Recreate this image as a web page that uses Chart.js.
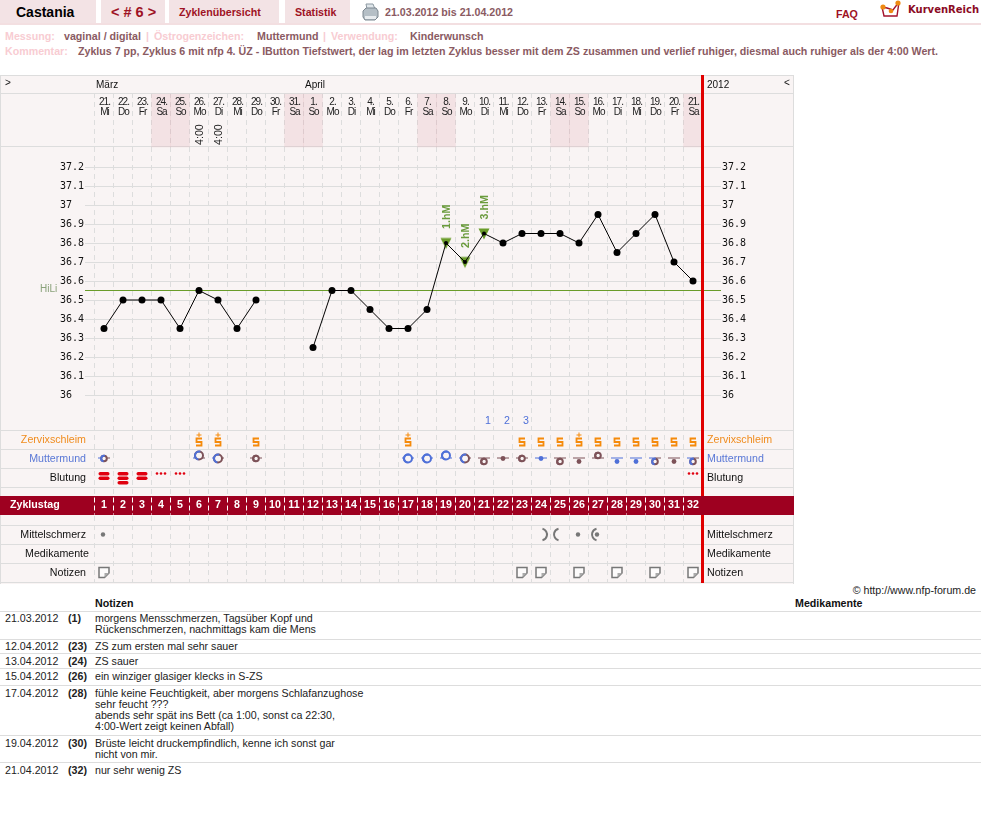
<!DOCTYPE html>
<html lang="de">
<head>
<meta charset="utf-8">
<title>Castania</title>
<script src="https://cdn.jsdelivr.net/npm/chart.js@4"></script>
<style>
    html, body { margin: 0; padding: 0; background: #fff; }
    body { width: 981px; height: 833px; position: relative; overflow: hidden; font-family: "Liberation Sans", Arial, sans-serif; }
    .abs { position: absolute; white-space: nowrap; }
    .tab { position: absolute; top: 0; height: 23px; line-height: 25px; background: #f3e3e5; text-align: left; color: #9e1224; font-weight: bold; font-size: 10.67px; box-sizing: border-box; padding-left: 10px; }
    .rule { position: absolute; left: 0; top: 23px; width: 981px; height: 2px; background: #f3dfe1; }
    .info { font-weight: bold; font-size: 10.67px; color: #8a5a62; line-height: 13px; }
    .pale { color: #f8ccd2; }
    #chart { position: absolute; left: 0; top: 0; }
    #noteTable { position: absolute; left: 0; top: 597px; width: 981px; border-collapse: collapse; font-size: 10.67px; line-height: 11px; color: #222; }
    #noteTable td, #noteTable th { padding: 2px 0 0 0; border-bottom: 1px solid #ddd; vertical-align: top; text-align: left; }
    #noteTable th { color: #111; padding: 1px 0 2px 0; }
    #noteTable tbody tr:nth-child(-n+2) td { padding-top: 1px; }
    #noteTable tr:last-child td { border-bottom: 0; }
</style>
</head>
<body>
<div class="tab" style="left:0;width:96px;padding-left:16px;color:#000;font-size:14px">Castania</div>
<div class="tab" style="left:101px;width:64px;font-size:14.5px">&lt; # 6 &gt;</div>
<div class="tab" style="left:169px;width:110px">Zyklenübersicht</div>
<div class="tab" style="left:285px;width:65px">Statistik</div>
<div class="rule"></div>
<svg class="abs" style="left:362px;top:3px" width="17" height="18" viewBox="0 0 17 18">
    <path d="M4 1h7l2 5H5z" fill="#dfe6ea" stroke="#8d99a2"/>
    <path d="M1 8l3-3h10l2 3v6l-3 3H3l-2-3z" fill="#b5bfc6" stroke="#7c8790"/>
    <path d="M3 13h11v3H3z" fill="#e8ecef"/>
</svg>
<div class="abs info" style="left:385px;top:6px">21.03.2012 bis 21.04.2012</div>
<div class="abs" style="left:836px;top:8px;font-size:10.67px;font-weight:bold;color:#9e1224">FAQ</div>
<svg class="abs" style="left:880px;top:0" width="22" height="19" viewBox="0 0 22 19">
    <path d="M2 7l2 9h13l2-14-6 8-6-2z" fill="#fff" stroke="#a3122c" stroke-width="1.4"/>
    <circle cx="3" cy="7" r="2.6" fill="#ee8a12"/><circle cx="11" cy="11" r="2.3" fill="#ee8a12"/><circle cx="18" cy="3" r="2.6" fill="#ee8a12"/>
</svg>
<div class="abs" style="left:908px;top:4px;font:bold 10px 'DejaVu Sans';color:#8b0b24">KurvenReich</div>

<div class="abs info pale" style="left:5px;top:30px">Messung:</div>
<div class="abs info" style="left:64px;top:30px">vaginal / digital</div>
<div class="abs info pale" style="left:146px;top:30px">|</div>
<div class="abs info pale" style="left:154px;top:30px">Östrogenzeichen:</div>
<div class="abs info" style="left:257px;top:30px">Muttermund</div>
<div class="abs info pale" style="left:323px;top:30px">|</div>
<div class="abs info pale" style="left:331px;top:30px">Verwendung:</div>
<div class="abs info" style="left:410px;top:30px">Kinderwunsch</div>
<div class="abs info pale" style="left:5px;top:45px">Kommentar:</div>
<div class="abs info" style="left:78px;top:45px">Zyklus 7 pp, Zyklus 6 mit nfp 4. ÜZ - IButton Tiefstwert, der lag im letzten Zyklus besser mit dem ZS zusammen und verlief ruhiger, diesmal auch ruhiger als der 4:00 Wert.</div>

<canvas id="chart" width="794" height="584"></canvas>

<div class="abs" style="right:5px;top:584px;font-size:10.67px;color:#222">© http://www.nfp-forum.de</div>
<table id="noteTable">
    <colgroup><col style="width:68px"><col style="width:27px"><col style="width:700px"><col></colgroup>
    <thead><tr><th></th><th></th><th>Notizen</th><th>Medikamente</th></tr></thead>
    <tbody id="noteBody"></tbody>
</table>

<script>
// cycle days
const cycleDays = [1,2,3,4,5,6,7,8,9,10,11,12,13,14,15,16,17,18,19,20,21,22,23,24,25,26,27,28,29,30,31,32];
const dayDates = ['21.','22.','23.','24.','25.','26.','27.','28.','29.','30.','31.','1.','2.','3.','4.','5.','6.','7.','8.','9.','10.','11.','12.','13.','14.','15.','16.','17.','18.','19.','20.','21.'];
const dayNames = ['Mi','Do','Fr','Sa','So','Mo','Di','Mi','Do','Fr','Sa','So','Mo','Di','Mi','Do','Fr','Sa','So','Mo','Di','Mi','Do','Fr','Sa','So','Mo','Di','Mi','Do','Fr','Sa'];
const weekendDays = [4,5,11,12,18,19,25,26,32];

// temperature curve, null = not measured
const temperatures = [36.35,36.5,36.5,36.5,36.35,36.55,36.5,36.35,36.5,null,null,36.25,36.55,36.55,36.45,36.35,36.35,36.45,36.8,36.7,36.85,36.8,36.85,36.85,36.85,36.8,36.95,36.75,36.85,36.95,36.7,36.6];
const tempTicks = [37.2,37.1,37,36.9,36.8,36.7,36.6,36.5,36.4,36.3,36.2,36.1,36];
const hiLi = 36.55;
const highDays = [19,20,21];
const highLabels = ['1.hM','2.hM','3.hM'];
const countDays = [21,22,23];
const countLabels = ['1','2','3'];
const fourOClockDays = [6,7];

// cervical mucus
const mucusDays = [6,7,9,17,23,24,25,26,27,28,29,30,31,32];
const mucusPlus = [true,true,false,true,false,false,false,true,false,false,false,false,false,false];

// cervix: day, opening (0 dot, 1 small ring, 2 large ring), height (1 high, 0 middle, -1 low), colour
const cervixDays = [1,6,7,9,17,18,19,20,21,22,23,24,25,26,27,28,29,30,31,32];
const cervixOpening = [1,2,2,1,2,2,2,2,1,0,1,0,1,0,1,0,0,1,0,1];
const cervixHeight = [0,1,0,0,0,0,1,0,-1,0,0,0,-1,-1,1,-1,-1,-1,-1,-1];
const cervixTone = ['mix','mix','mix','soft','firm','firm','firm','mix','soft','soft','soft','firm','soft','soft','soft','firm','firm','mix','soft','mix'];

// bleeding
const bleedDays = [1,2,3,4,5,32];
const bleedAmount = [2,3,2,0,0,0];

// pain and notes
const painDays = [1,24,25,26,27];
const painMarks = ['dot','right','left','dot','leftdot'];
const noteDays = [1,23,24,26,28,30,32];

// note list below the chart
const noteDates = ['21.03.2012','12.04.2012','13.04.2012','15.04.2012','17.04.2012','19.04.2012','21.04.2012'];
const noteTexts = [
    'morgens Mensschmerzen, Tagsüber Kopf und<br>Rückenschmerzen, nachmittags kam die Mens',
    'ZS zum ersten mal sehr sauer',
    'ZS sauer',
    'ein winziger glasiger klecks in S-ZS',
    'fühle keine Feuchtigkeit, aber morgens Schlafanzughose<br>sehr feucht ???<br>abends sehr spät ins Bett (ca 1:00, sonst ca 22:30,<br>4:00-Wert zeigt keinen Abfall)',
    'Brüste leicht druckempfindlich, kenne ich sonst gar<br>nicht von mir.',
    'nur sehr wenig ZS'
];

// row names, left and right of the grid
const rowNames = ['Zervixschleim','Muttermund','Blutung','Mittelschmerz','Medikamente','Notizen'];
const rowNumbers = [7,6,5,2,1,0];
const rowColours = ['#f08c1e','#5a78d6','#111','#111','#111','#111'];

const noteRowHeights = [28,14,15,17,50,27,20];
document.getElementById('noteBody').innerHTML = noteDates.map((date, i) =>
    `<tr style="height:${noteRowHeights[i]}px"><td style="padding-left:5px">${date}</td><td><b>(${noteDays[i]})</b></td><td>${noteTexts[i]}</td><td></td></tr>`
).join('');

const BG = '#f9f4f4';
const GRID = '#dddddd';
const RED = '#e00000';
const WINE = '#9e0020';
const GREEN = '#6a9c2a';
const ORANGE = '#f58a0b';
const BLUE = '#4f70d8';
const BROWN = '#7d5258';
const GREY = '#777777';
const LABEL_FONT = '10.67px "Liberation Sans"';

// rows are 19px high and row 0 is Notizen
const rowY = px => (572.5 - px) / 19;
const bandRow = 3.526;

// small helper for the symbols used as point styles
function icon(w, h, paint) {
    const c = document.createElement('canvas');
    c.width = w;
    c.height = h;
    paint(c.getContext('2d'), w / 2, h / 2);
    return c;
}

const triangleIcon = icon(12, 23, (g, cx, cy) => {
    g.fillStyle = GREEN;
    g.beginPath();
    g.moveTo(cx - 5.5, cy - 5);
    g.lineTo(cx + 5.5, cy - 5);
    g.lineTo(cx, cy + 6);
    g.closePath();
    g.fill();
});

function mucusIcon(plus) {
    return icon(12, 19, (g, cx, cy) => {
        g.strokeStyle = ORANGE;
        g.lineWidth = 1.8;
        g.beginPath();
        g.moveTo(cx + 3, cy - 1);
        g.lineTo(cx - 2.5, cy - 1);
        g.lineTo(cx - 2.5, cy + 2.5);
        g.lineTo(cx + 2.5, cy + 2.5);
        g.lineTo(cx + 2.5, cy + 6);
        g.lineTo(cx - 3, cy + 6);
        g.stroke();
        if (plus) {
            g.lineWidth = 1;
            g.beginPath();
            g.moveTo(cx - 2.5, cy - 4.5);
            g.lineTo(cx + 2.5, cy - 4.5);
            g.moveTo(cx, cy - 7);
            g.lineTo(cx, cy - 2.5);
            g.stroke();
        }
    });
}

function cervixIcon(opening, height, tone) {
    return icon(18, 19, (g, cx, cy) => {
        const lead = tone === 'soft' ? BROWN : BLUE;
        const tail = tone === 'firm' ? BLUE : BROWN;
        const sy = cy - height * 3;
        g.lineWidth = 1;
        g.strokeStyle = lead;
        g.beginPath();
        g.moveTo(cx - 6, cy - 0.5);
        g.lineTo(cx, cy - 0.5);
        g.stroke();
        g.strokeStyle = tail;
        g.beginPath();
        g.moveTo(cx, cy - 0.5);
        g.lineTo(cx + 6, cy - 0.5);
        g.stroke();
        if (opening === 0) {
            g.fillStyle = tone === 'soft' ? BROWN : BLUE;
            g.beginPath();
            g.arc(cx, sy, 2.4, 0, Math.PI * 2);
            g.fill();
            return;
        }
        const r = opening === 2 ? 4 : 2.8;
        g.fillStyle = BG;
        g.beginPath();
        g.arc(cx, sy, r, 0, Math.PI * 2);
        g.fill();
        g.lineWidth = 2;
        g.strokeStyle = tail;
        g.beginPath();
        g.arc(cx, sy, r, 0, Math.PI * 2);
        g.stroke();
        g.strokeStyle = lead;
        g.beginPath();
        g.arc(cx, sy, r, Math.PI * 0.55, Math.PI * 1.6);
        g.stroke();
    });
}

function bleedIcon(amount) {
    return icon(18, 19, (g, cx, cy) => {
        g.fillStyle = '#e0000f';
        if (amount === 0) {
            [-4, 0, 4].forEach(dx => {
                g.beginPath();
                g.arc(cx + dx, cy - 4, 1.3, 0, Math.PI * 2);
                g.fill();
            });
            return;
        }
        for (let i = 0; i < amount; i++) {
            g.beginPath();
            g.roundRect(cx - 5.5, cy - 5.5 + i * 4.5, 11, 3.4, 1.7);
            g.fill();
        }
    });
}

function painIcon(mark) {
    return icon(18, 19, (g, cx, cy) => {
        g.fillStyle = GREY;
        g.strokeStyle = GREY;
        g.lineWidth = 2;
        if (mark === 'dot' || mark === 'leftdot') {
            g.beginPath();
            g.arc(cx - 1, cy, 2.2, 0, Math.PI * 2);
            g.fill();
        }
        if (mark === 'left' || mark === 'leftdot') {
            g.beginPath();
            g.arc(cx, cy, 6, Math.PI * 0.58, Math.PI * 1.42);
            g.stroke();
        }
        if (mark === 'right') {
            g.beginPath();
            g.arc(cx, cy, 6, -Math.PI * 0.42, Math.PI * 0.42);
            g.stroke();
        }
    });
}

const noteIcon = icon(12, 13, g => {
    g.fillStyle = '#fdfbfb';
    g.strokeStyle = GREY;
    g.lineWidth = 1.5;
    g.beginPath();
    g.moveTo(1, 1.5);
    g.lineTo(11, 1.5);
    g.lineTo(11, 7);
    g.lineTo(6.5, 11.5);
    g.lineTo(1, 11.5);
    g.closePath();
    g.fill();
    g.stroke();
    g.fillStyle = '#aaa';
    g.beginPath();
    g.moveTo(6.5, 7);
    g.lineTo(11, 7);
    g.lineTo(6.5, 11.5);
    g.closePath();
    g.fill();
});

function drawText(g, text, x, y, font, colour, align, spacing) {
    g.font = font;
    g.fillStyle = colour;
    g.textAlign = align || 'left';
    g.textBaseline = 'middle';
    g.letterSpacing = spacing || '0px';
    g.fillText(text, x, y);
    g.letterSpacing = '0px';
}

function drawUpright(g, text, x, y, font, colour) {
    g.save();
    g.translate(x, y);
    g.rotate(-Math.PI / 2);
    g.font = font;
    g.fillStyle = colour;
    g.textAlign = 'left';
    g.textBaseline = 'alphabetic';
    g.fillText(text, 0, 0);
    g.restore();
}

const chartFrame = {
    id: 'chartFrame',
    beforeDraw(chart) {
        const g = chart.ctx;
        g.save();
        g.fillStyle = BG;
        g.fillRect(0, 75, 794, 509);
        g.fillStyle = GRID;
        g.fillRect(0, 75, 794, 1);
        g.fillRect(0, 75, 1, 509);
        g.fillRect(793, 75, 1, 509);
        g.restore();
    },
    beforeDatasetsDraw(chart) {
        const g = chart.ctx;
        const { temp } = chart.scales;
        const ruleY = v => Math.floor(temp.getPixelForValue(v)) + 0.5;
        g.save();
        g.strokeStyle = GRID;
        g.lineWidth = 1;
        tempTicks.forEach(t => {
            g.beginPath();
            g.moveTo(85, ruleY(t));
            g.lineTo(721, ruleY(t));
            g.stroke();
        });
        g.strokeStyle = GREEN;
        g.beginPath();
        g.moveTo(85, ruleY(hiLi));
        g.lineTo(721, ruleY(hiLi));
        g.stroke();
        g.restore();
    },
    afterDraw(chart) {
        const g = chart.ctx;
        const { x, temp, rows } = chart.scales;
        g.save();

        // cycle end marker and the cycle day band
        const endX = x.getPixelForValue(32.5);
        g.fillStyle = RED;
        g.fillRect(endX - 1.5, 75, 3, 508);
        const bandY = rows.getPixelForValue(bandRow);
        g.fillStyle = WINE;
        g.fillRect(0, Math.round(bandY - 9.5), 794, 19);
        g.strokeStyle = '#fff';
        g.setLineDash([5, 3]);
        g.lineWidth = 1;
        for (let d = 1; d <= 32; d++) {
            const bx = Math.floor(x.getPixelForValue(d - 0.5)) + 0.5;
            g.beginPath();
            g.moveTo(bx, bandY - 8);
            g.lineTo(bx, bandY + 9);
            g.stroke();
        }
        g.setLineDash([]);
        drawText(g, 'Zyklustag', 10, bandY, 'bold ' + LABEL_FONT, '#fff');
        cycleDays.forEach(d => drawText(g, String(d), x.getPixelForValue(d), bandY, 'bold ' + LABEL_FONT, '#fff', 'center'));

        // header row
        const font = '10px "Liberation Sans"';
        drawText(g, '>', 5, 83, font, '#111');
        drawText(g, 'März', x.getPixelForValue(0.5) + 1.5, 85, font, '#111');
        drawText(g, 'April', x.getPixelForValue(11.5) + 1.5, 85, font, '#111');
        drawText(g, '2012', 707, 85, font, '#111');
        drawText(g, '<', 784, 83, font, '#111');
        cycleDays.forEach((d, i) => {
            const cx = x.getPixelForValue(d) + 0.5;
            drawText(g, dayDates[i], cx, 102, font, '#222', 'center', '-1px');
            drawText(g, dayNames[i], cx, 112, font, '#222', 'center', '-1px');
        });
        fourOClockDays.forEach(d => drawUpright(g, '4:00', x.getPixelForValue(d) + 4, 145, LABEL_FONT, '#222'));

        // row names on both sides
        rowNames.forEach((name, i) => {
            const y = rows.getPixelForValue(rowNumbers[i]) + 0.5;
            drawText(g, name, name === 'Medikamente' ? 89 : 86, y, LABEL_FONT, rowColours[i], 'right');
            drawText(g, name, 707, y, LABEL_FONT, rowColours[i]);
        });

        // temperature notes
        drawText(g, 'HiLi', 40, temp.getPixelForValue(hiLi) - 1, '10px "Liberation Sans"', '#8aa27a');
        highDays.forEach((d, i) => {
            const py = temp.getPixelForValue(temperatures[d - 1]);
            drawUpright(g, highLabels[i], x.getPixelForValue(d) + 4, py - 14, 'bold ' + LABEL_FONT, '#6a9b3c');
        });
        countDays.forEach((d, i) => {
            drawText(g, countLabels[i], x.getPixelForValue(d) + 1, rows.getPixelForValue(8) + 0.5, LABEL_FONT, BLUE);
        });
        g.restore();
    }
};

const iconSet = (days, row, styles) => ({
    data: days.map(d => ({ x: d, y: row })),
    yAxisID: 'rows',
    showLine: false,
    pointRadius: 9,
    pointStyle: ctx => styles[ctx.dataIndex]
});

const flatAxis = scale => {
    scale.width = 0;
    scale.height = 0;
    scale.paddingTop = 0;
    scale.paddingBottom = 0;
    scale.paddingLeft = 0;
    scale.paddingRight = 0;
};

const tempRange = { min: 37.2 - 415 / 190, max: 37.2 + 74 / 190 };

const tempAxis = padding => ({
    position: 'left',
    min: tempRange.min,
    max: tempRange.max,
    afterBuildTicks: scale => { scale.ticks = tempTicks.map(value => ({ value })); },
    afterFit: flatAxis,
    grid: { display: false },
    border: { display: false },
    ticks: {
        mirror: true,
        padding,
        autoSkip: false,
        color: '#111',
        font: { family: '"DejaVu Sans Mono"', size: 10 },
        callback: v => String(v)
    }
});

new Chart(document.getElementById('chart'), {
    type: 'line',
    data: {
        datasets: [
            {
                data: cycleDays.map((d, i) => ({ x: d, y: temperatures[i] })),
                yAxisID: 'temp',
                borderColor: '#000',
                borderWidth: 1,
                backgroundColor: '#000',
                pointRadius: ctx => (highDays.includes(ctx.raw.x) ? 2 : 3.5),
                pointBorderWidth: 0,
                tension: 0,
                spanGaps: false
            },
            {
                data: highDays.map(d => ({ x: d, y: temperatures[d - 1] })),
                yAxisID: 'temp',
                showLine: false,
                pointRadius: 7,
                pointStyle: ctx => triangleIcon
            },
            iconSet(mucusDays, 7, mucusPlus.map(mucusIcon)),
            iconSet(cervixDays, 6, cervixDays.map((d, i) => cervixIcon(cervixOpening[i], cervixHeight[i], cervixTone[i]))),
            iconSet(bleedDays, 5, bleedAmount.map(bleedIcon)),
            iconSet(painDays, 2, painMarks.map(painIcon)),
            iconSet(noteDays, 0, noteDays.map(() => noteIcon)),
            {
                type: 'bar',
                data: weekendDays.map(d => ({ x: d, y: [rowY(147), rowY(94)] })),
                yAxisID: 'rows',
                barThickness: 19,
                grouped: false,
                borderWidth: 0,
                backgroundColor: 'rgba(226,170,178,0.24)'
            }
        ]
    },
    options: {
        responsive: false,
        animation: false,
        events: [],
        layout: { autoPadding: false, padding: { top: 93, bottom: 2, left: 0, right: 0 } },
        plugins: { legend: { display: false }, tooltip: { enabled: false }, title: { display: false } },
        scales: {
            x: {
                type: 'linear',
                position: 'bottom',
                offset: false,
                min: 1 - 104 / 19,
                max: 1 + 690 / 19,
                afterBuildTicks: scale => { scale.ticks = cycleDays.map(d => ({ value: d - 0.5 })); },
                afterFit: flatAxis,
                grid: { color: GRID, drawTicks: false, offset: false },
                border: { display: false, dash: [5, 4] },
                ticks: { display: false }
            },
            temp: tempAxis(60),
            tempRight: tempAxis(722),
            rows: {
                type: 'linear',
                position: 'left',
                display: true,
                min: rowY(582),
                max: rowY(93),
                afterBuildTicks: scale => { scale.ticks = [582, 563, 544, 525, 487, 468, 449, 430, 147, 93].map(px => ({ value: rowY(px) })); },
                afterFit: flatAxis,
                grid: { color: GRID, drawTicks: false },
                border: { display: false },
                ticks: { display: false }
            }
        }
    },
    plugins: [chartFrame]
});
</script>
</body>
</html>
